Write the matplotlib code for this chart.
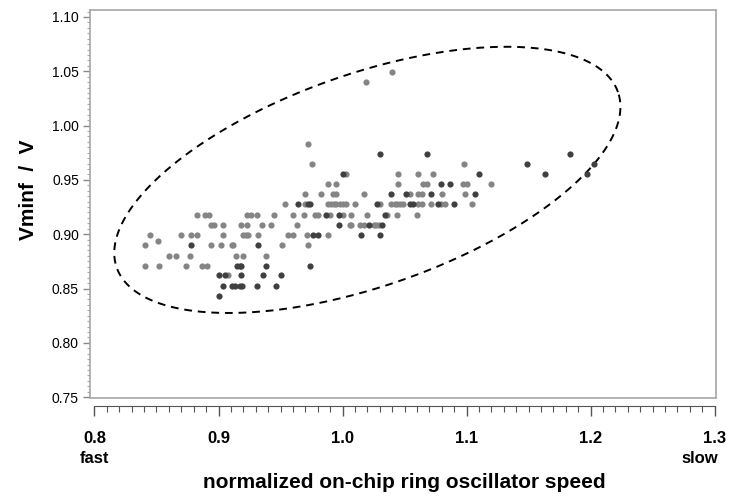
import matplotlib
matplotlib.use("Agg")
import matplotlib.pyplot as plt
import numpy as np
from matplotlib.ticker import MultipleLocator, FixedLocator, FormatStrFormatter
import matplotlib.transforms as mtransforms

plt.rcParams['font.family'] = ['Liberation Sans', 'DejaVu Sans']

x_ticks = [0.8, 0.9, 1.0, 1.1, 1.2, 1.3]

# light grey points (speed, Vminf)
light_x = [0.972,
           0.975, 1.098,
           1.003, 1.045, 1.061, 1.073,
           0.988, 0.995, 1.045, 1.065, 1.068, 1.097, 1.100, 1.120,
           0.970, 0.983, 0.992, 0.995, 1.017, 1.054, 1.061, 1.064, 1.080, 1.099,
           0.954, 0.970, 0.988, 0.991, 0.993, 0.995, 0.998, 1.000, 1.003, 1.010,
           1.030, 1.039, 1.042, 1.044, 1.046, 1.049, 1.061, 1.064, 1.071, 1.079,
           1.083, 1.104,
           0.883, 0.889, 0.892, 0.923, 0.926, 0.931, 0.945, 0.960, 0.969, 0.978,
           0.980, 0.990, 1.000, 1.007, 1.020, 1.036, 1.044, 1.060,
           0.894, 0.896, 0.904, 0.918, 0.923, 0.935, 0.942, 0.963, 1.006, 1.007,
           1.014, 1.017, 1.025, 1.027, 1.029,
           0.845, 0.870, 0.878, 0.883, 0.904, 0.920, 0.922, 0.924, 0.932, 0.956,
           0.960, 0.971, 0.988,
           0.851,
           0.841, 0.894, 0.902, 0.911, 0.912, 0.951, 0.972,
           0.860, 0.866, 0.877, 0.914, 0.920, 0.938,
           0.841, 0.852, 0.874, 0.887, 0.891,
           0.908,
           1.019, 1.040]
light_y = ([0.983] + [0.965] * 2 + [0.955] * 4 + [0.946] * 8 + [0.937] * 10
           + [0.928] * 22 + [0.918] * 18 + [0.908] * 15 + [0.899] * 13
           + [0.894] + [0.890] * 7 + [0.880] * 6 + [0.871] * 5 + [0.862]
           + [1.040, 1.049])

# dark grey points
dark_x = [1.030, 1.068, 1.183,
          1.149, 1.203,
          1.000, 1.110, 1.163, 1.197,
          1.079, 1.087,
          1.039, 1.051, 1.071, 1.107,
          0.964, 0.972, 0.974, 1.028, 1.054, 1.057, 1.077, 1.090,
          0.987, 0.997, 1.034,
          0.997, 1.021, 1.032,
          0.976, 0.980, 1.015, 1.030,
          0.878, 0.932,
          0.915, 0.917, 0.918, 0.938, 0.974,
          0.900, 0.905, 0.918, 0.936, 0.950,
          0.904, 0.911, 0.913, 0.917, 0.919, 0.931, 0.946,
          0.900]
dark_y = ([0.974] * 3 + [0.965] * 2 + [0.955] * 4 + [0.946] * 2 + [0.937] * 4
          + [0.928] * 8 + [0.918] * 3 + [0.908] * 3 + [0.899] * 4 + [0.890] * 2
          + [0.871] * 5 + [0.862] * 5 + [0.852] * 7 + [0.843])

fig = plt.figure(figsize=(7.30, 4.99), dpi=100)
ax = fig.add_axes([0.1233, 0.2024, 0.8577, 0.7776])

ax.scatter(light_x, light_y, s=20, c='#858585', linewidths=0, zorder=3)
ax.scatter(dark_x, dark_y, s=20, c='#404040', linewidths=0, zorder=4)

# dashed ellipse around the cloud
t = np.linspace(0, 2 * np.pi, 400)
phi = np.deg2rad(19.3)
a, b = 265.5, 106.0
ex = 1.020 + (a * np.cos(t) * np.cos(phi) - b * np.sin(t) * np.sin(phi)) / 1240.0
ey = 0.950 + (a * np.cos(t) * np.sin(phi) + b * np.sin(t) * np.cos(phi)) / 1086.0
ax.plot(ex, ey, color='black', lw=1.4, ls=(0, (4, 3)), zorder=2)

ax.set_xlim(0.7964, 1.3012)
ax.set_ylim(0.7492, 1.1064)

for sp in ax.spines.values():
    sp.set_color('#a6a6a6')
    sp.set_linewidth(1.2)

ax.yaxis.set_major_locator(MultipleLocator(0.05))
ax.yaxis.set_minor_locator(MultipleLocator(0.005))
ax.yaxis.set_major_formatter(FormatStrFormatter('%.2f'))
ax.tick_params(axis='y', which='major', direction='out', length=5, width=1,
               color='#888888', labelsize=10, pad=3)
ax.tick_params(axis='y', which='minor', direction='out', length=2.5, width=0.8,
               color='#aaaaaa')
ax.tick_params(axis='x', which='both', bottom=False, labelbottom=False)

sec = ax.secondary_xaxis(-0.021)
sec.spines['bottom'].set_bounds(0.8, 1.3)
sec.spines['bottom'].set_color('#555555')
sec.xaxis.set_major_locator(FixedLocator(x_ticks))
sec.xaxis.set_minor_locator(FixedLocator(np.arange(80, 131) / 100.0))
sec.xaxis.set_major_formatter(FormatStrFormatter('%.1f'))
sec.tick_params(axis='x', which='major', direction='out', length=7, width=1,
                color='#555555', labelsize=12, pad=11)
sec.tick_params(axis='x', which='minor', direction='out', length=4, width=0.8,
                color='#555555')
for lab in sec.get_xticklabels():
    lab.set_fontweight('bold')

trans = mtransforms.blended_transform_factory(ax.transData, ax.transAxes)
ax.text(0.8, -0.155, 'fast', transform=trans, ha='center', va='center',
        fontsize=12, fontweight='bold')
ax.text(1.288, -0.155, 'slow', transform=trans, ha='center', va='center',
        fontsize=12, fontweight='bold')

fig.text(404 / 730, 1 - 482 / 499, 'normalized on-chip ring oscillator speed',
         ha='center', va='center', fontsize=15, fontweight='bold')
fig.text(28 / 730, 1 - 190 / 499, 'Vminf  /  V', rotation=90,
         ha='center', va='center', fontsize=15, fontweight='bold')

fig.savefig('out.png', dpi=100)
